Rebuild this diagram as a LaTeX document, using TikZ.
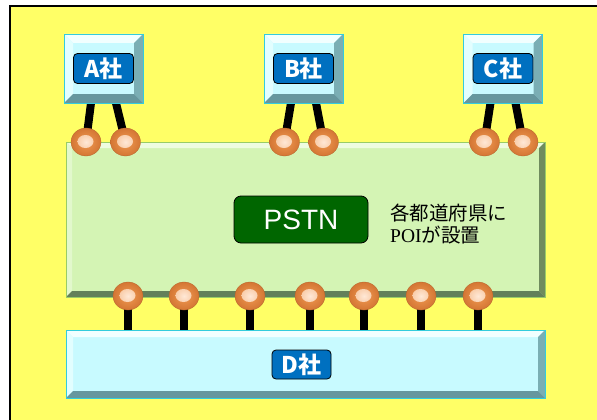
\documentclass[tikz,border=0pt]{standalone}
\usepackage{fontspec}
\setmainfont{Liberation Sans}
\newfontfamily\jp{Noto Sans CJK JP}
\newfontfamily\poiserif{Liberation Serif}
\usetikzlibrary{shapes.geometric,calc}

\definecolor{bgyellow}{HTML}{FFFF66}
\definecolor{cyanface}{HTML}{C8FAFF}
\definecolor{cyanborder}{HTML}{33CCDD}
\definecolor{cyantop}{HTML}{F2FFFF}
\definecolor{cyanleft}{HTML}{E2FEFF}
\definecolor{cyanright}{HTML}{7AAEB4}
\definecolor{cyanbottom}{HTML}{66979E}
\definecolor{tagblue}{HTML}{0070C0}
\definecolor{greenface}{HTML}{D4F4B4}
\definecolor{greenborder}{HTML}{99CC66}
\definecolor{greentop}{HTML}{EEFCE0}
\definecolor{greenleft}{HTML}{E2F8CC}
\definecolor{greenright}{HTML}{6F8C5E}
\definecolor{greenbottom}{HTML}{63805A}
\definecolor{pstngreen}{HTML}{006600}
\definecolor{ballouter}{HTML}{D47634}
\definecolor{ballmid}{HTML}{F09A52}
\definecolor{ballhi}{HTML}{FFE8D6}
\definecolor{ballhiedge}{HTML}{F4B888}

% bevel: node, depth, top, left, right, bottom
\newcommand{\mybevel}[6]{%
  \fill[#3] (#1.north west) -- (#1.north east) -- ($(#1.north east)+(-#2,#2)$) -- ($(#1.north west)+(#2,#2)$) -- cycle;
  \fill[#4] (#1.north west) -- (#1.south west) -- ($(#1.south west)+(#2,-#2)$) -- ($(#1.north west)+(#2,#2)$) -- cycle;
  \fill[#5] (#1.north east) -- (#1.south east) -- ($(#1.south east)+(-#2,-#2)$) -- ($(#1.north east)+(-#2,#2)$) -- cycle;
  \fill[#6] (#1.south west) -- (#1.south east) -- ($(#1.south east)+(-#2,-#2)$) -- ($(#1.south west)+(#2,-#2)$) -- cycle;
  \draw[#1border] (#1.north west) rectangle (#1.south east);
}

\tikzset{
  cbox/.style={rectangle, fill=cyanface, outer sep=0pt, inner sep=0pt},
  gbox/.style={rectangle, fill=greenface, outer sep=0pt, inner sep=0pt},
  tag/.style={rectangle, rounded corners=4pt, fill=tagblue, draw=black, line width=0.8pt,
    minimum width=60pt, minimum height=30pt, inner sep=0pt, text=white,
    font=\jp\bfseries\fontsize{23}{23}\selectfont},
  pstntag/.style={rectangle, rounded corners=7pt, fill=pstngreen, draw=black, line width=0.8pt,
    minimum width=134pt, minimum height=47pt, inner sep=0pt, text=white,
    font=\fontsize{28}{28}\selectfont},
  stem/.style={line width=8pt, black},
  ball/.style={ellipse, minimum width=30pt, minimum height=28pt, inner sep=0pt,
    shading=radial, inner color=ballmid, outer color=ballouter, draw=ballouter!85!black, line width=0.3pt,
    path picture={\shade[inner color=ballhi, outer color=ballhiedge]
      ($(path picture bounding box.center)+(-0.5,-0.5)$) ellipse (8pt and 6.5pt);}},
  note/.style={align=left, font=\jp\fontsize{19.5}{22}\selectfont, inner sep=0pt, anchor=west},
  Aborder/.style={cyanborder, line width=0.8pt}, Bborder/.style={cyanborder, line width=0.8pt},
  Cborder/.style={cyanborder, line width=0.8pt}, Dborder/.style={cyanborder, line width=0.8pt},
  Nborder/.style={greenborder, line width=0.8pt}
}

\begin{document}
\begin{tikzpicture}[x=1pt,y=-1pt]
\useasboundingbox (0,0) rectangle (597,420);
\fill[white] (0,0) rectangle (597,420);
\draw[fill=bgyellow, line width=1.6pt] (10,6) rectangle (604,426);

% ball positions
\coordinate (pa1) at (86,142);
\coordinate (pa2) at (125.5,142);
\coordinate (pb1) at (284.5,142);
\coordinate (pb2) at (323.5,142);
\coordinate (pc1) at (484.5,142);
\coordinate (pc2) at (523,142);
\foreach \i/\x in {1/128,2/184,3/250,4/310,5/364,6/421,7/478}{
  \coordinate (pd\i) at (\x,296);
}

% company boxes
\node[cbox, minimum width=79pt, minimum height=69pt] (A) at (103.5,68.5) {};
\node[cbox, minimum width=79pt, minimum height=69pt] (B) at (303.5,68.5) {};
\node[cbox, minimum width=79pt, minimum height=69pt] (C) at (503,68.5) {};

% top stems
\draw[stem] ([xshift=-12.5pt]A.south) -- (pa1);
\draw[stem] ([xshift=12.5pt]A.south) -- (pa2);
\draw[stem] ([xshift=-12.5pt]B.south) -- (pb1);
\draw[stem] ([xshift=12.5pt]B.south) -- (pb2);
\draw[stem] ([xshift=-12.5pt]C.south) -- (pc1);
\draw[stem] ([xshift=12.5pt]C.south) -- (pc2);

\mybevel{A}{9}{cyantop}{cyanleft}{cyanright}{cyanbottom}
\mybevel{B}{9}{cyantop}{cyanleft}{cyanright}{cyanbottom}
\mybevel{C}{9}{cyantop}{cyanleft}{cyanright}{cyanbottom}
\node[tag] (Alab) at (A) {A社};
\node[tag] (Blab) at (B) {B社};
\node[tag] (Clab) at (C) {C社};

% D box
\node[cbox, minimum width=479pt, minimum height=68pt] (D) at (305.5,364) {};
% bottom stems
\foreach \i in {1,...,7}{
  \draw[stem] (pd\i) -- (pd\i |- D.north);
}

% PSTN box
\node[gbox, minimum width=479pt, minimum height=155pt] (N) at (305.5,219.5) {};
\mybevel{N}{6}{greentop}{greenleft}{greenright}{greenbottom}
\node[pstntag] (P) at (301,219.5) {PSTN};
\node[note] (T) at (390,224) {各都道府県に\\{\poiserif POI}が設置};

\mybevel{D}{7}{cyantop}{cyanleft}{cyanright}{cyanbottom}
\node[tag, minimum width=59pt, minimum height=29pt] (Dlab) at (301.5,364.5) {D社};

% balls
\node[ball] (a1) at (pa1) {};
\node[ball] (a2) at (pa2) {};
\node[ball] (b1) at (pb1) {};
\node[ball] (b2) at (pb2) {};
\node[ball] (c1) at (pc1) {};
\node[ball] (c2) at (pc2) {};
\foreach \i in {1,...,7}{
  \node[ball] (d\i) at (pd\i) {};
}
\end{tikzpicture}
\end{document}
